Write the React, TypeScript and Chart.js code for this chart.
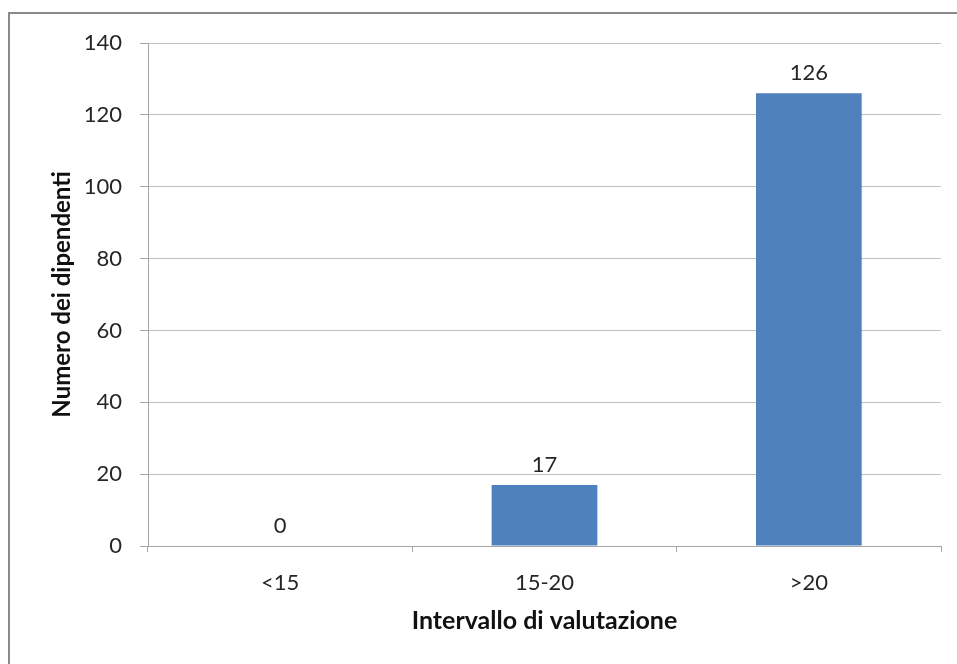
import React, { useEffect, useRef } from "react";
import { Chart, registerables } from "chart.js";

Chart.register(...registerables);

const categories: string[] = ["<15", "15-20", ">20"];
const values: number[] = [0, 17, 126];
const yMin = 0;
const yMax = 140;
const yStep = 20;
const xTitle = "Intervallo di valutazione";
const yTitle = "Numero dei dipendenti";

const FONT = "Lato, 'Open Sans', sans-serif";
const TEXT = "#262626";

const valueLabels = {
  id: "valueLabels",
  afterDatasetsDraw(chart: any) {
    const ctx = chart.ctx;
    const meta = chart.getDatasetMeta(0);
    ctx.save();
    ctx.font = `22px ${FONT}`;
    ctx.fillStyle = TEXT;
    ctx.textAlign = "center";
    ctx.textBaseline = "middle";
    meta.data.forEach((el: any, i: number) => {
      ctx.fillText(String(values[i]), el.x, el.y - 20);
    });
    ctx.restore();
  },
};

export default function App() {
  const ref = useRef<HTMLCanvasElement | null>(null);

  useEffect(() => {
    if (!ref.current) return;
    const chart = new Chart(ref.current, {
      type: "bar",
      data: {
        labels: categories,
        datasets: [
          {
            data: values,
            backgroundColor: "#4F81BD",
            borderWidth: 0,
            categoryPercentage: 1,
            barPercentage: 0.4,
          },
        ],
      },
      options: {
        animation: false,
        responsive: false,
        maintainAspectRatio: false,
        layout: { padding: { top: 43, right: 16, left: 0, bottom: 0 } },
        plugins: {
          legend: { display: false },
          tooltip: { enabled: false },
        },
        scales: {
          x: {
            grid: {
              offset: true,
              drawOnChartArea: false,
              drawTicks: true,
              tickLength: 6,
              color: "#a6a6a6",
            },
            border: { color: "#a6a6a6", width: 1 },
            ticks: {
              color: TEXT,
              font: { family: FONT, size: 22 },
              padding: 18,
            },
            title: {
              display: true,
              text: xTitle,
              color: "#111111",
              font: { family: FONT, size: 25, weight: "bold" },
              padding: { top: 0, bottom: 28 },
            },
            afterFit: (scale: any) => {
              scale.height = 118;
            },
          },
          y: {
            min: yMin,
            max: yMax,
            ticks: {
              stepSize: yStep,
              color: TEXT,
              font: { family: FONT, size: 22 },
              padding: 18,
            },
            grid: {
              color: "#c0c0c0",
              tickLength: 8,
              tickColor: "#a6a6a6",
            },
            border: { color: "#a6a6a6", width: 1 },
            title: {
              display: true,
              text: yTitle,
              color: "#111111",
              font: { family: FONT, size: 24, weight: "bold" },
              padding: { top: 48, bottom: 0 },
            },
            afterFit: (scale: any) => {
              scale.width = 148;
            },
          },
        },
      },
      plugins: [valueLabels],
    });
    return () => chart.destroy();
  }, []);

  return (
    <div
      style={{
        position: "fixed",
        left: 0,
        top: 0,
        width: 957,
        height: 664,
        overflow: "hidden",
        background: "#ffffff",
      }}
    >
      <div
        style={{
          position: "absolute",
          left: 8,
          top: 12,
          width: 2000,
          height: 2000,
          borderLeft: "2px solid #8a8a8a",
          borderTop: "2px solid #8a8a8a",
        }}
      />
      <canvas
        ref={ref}
        width={957}
        height={664}
        style={{ position: "absolute", left: 0, top: 0, width: 957, height: 664 }}
      />
    </div>
  );
}
